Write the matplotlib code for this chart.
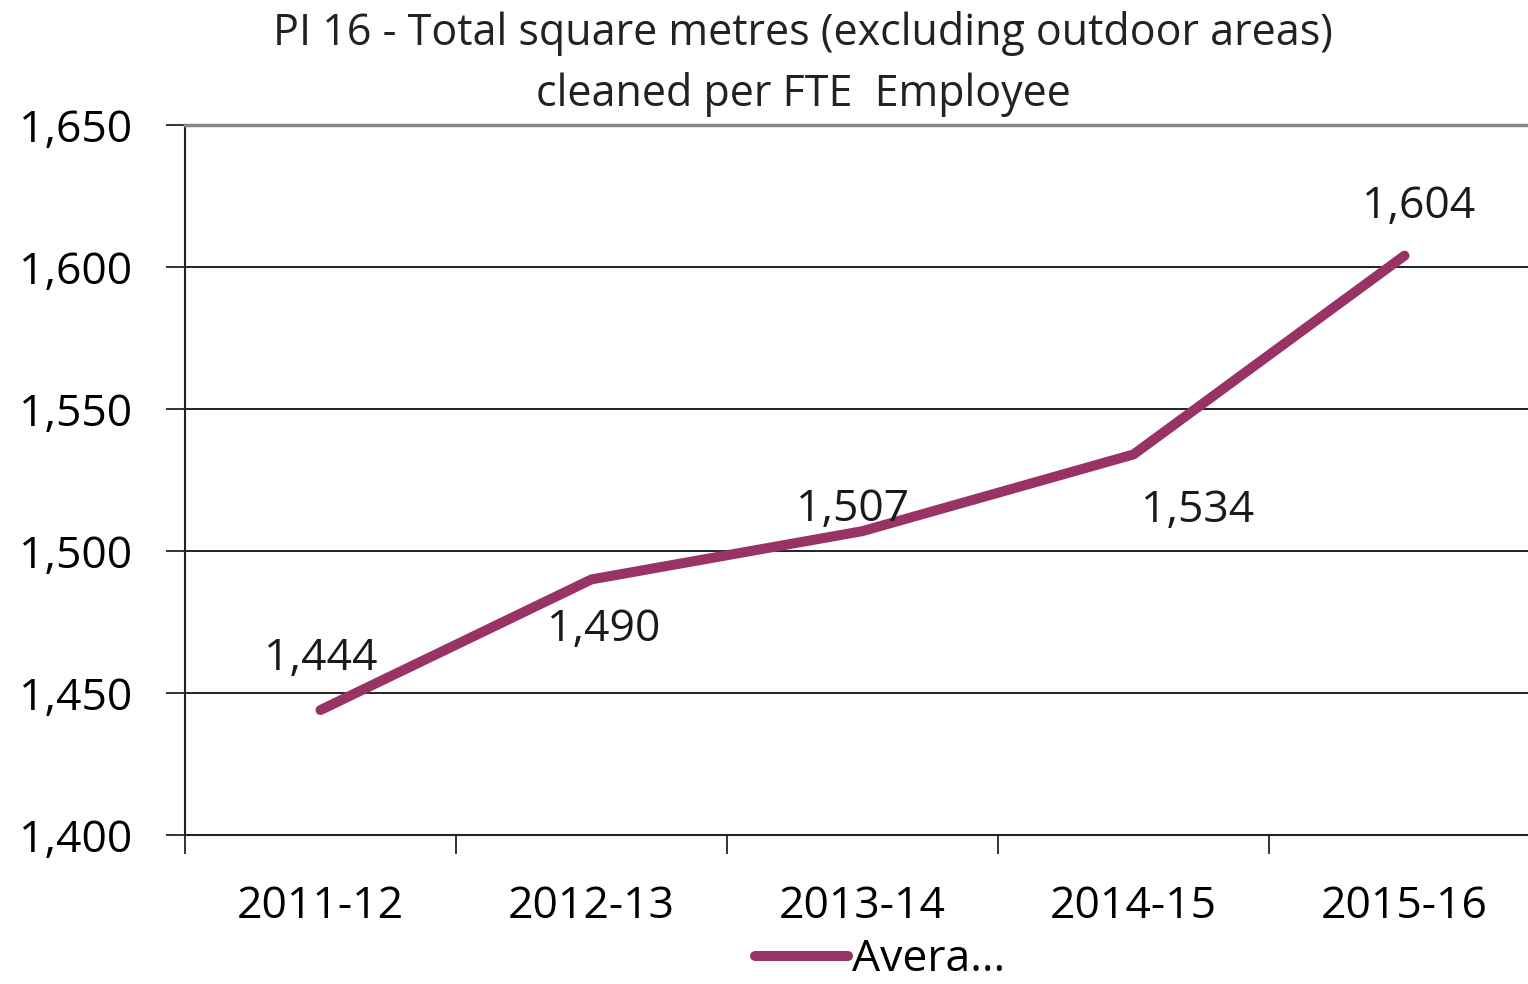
import matplotlib
matplotlib.use("Agg")
import matplotlib.pyplot as plt

plt.rcParams["font.family"] = ["Open Sans", "DejaVu Sans"]

years = ["2011-12", "2012-13", "2013-14", "2014-15", "2015-16"]
average = [1444, 1490, 1507, 1534, 1604]
y_ticks = [1400, 1450, 1500, 1550, 1600, 1650]
series_name = "Avera..."
title = "PI 16 - Total square metres (excluding outdoor areas)\ncleaned per FTE  Employee"

# label offsets in pixels (dx, dy), Excel-style placement
label_offsets = [(0, 51), (12, -50), (-10, 21), (64, -56), (14, 49)]

line_color = "#993366"
fs = 32

fig = plt.figure(figsize=(15.28, 9.84), dpi=100)
ax = fig.add_axes([185 / 1528, 1 - 835 / 984, (1540 - 185) / 1528, (835 - 125) / 984])

x = list(range(len(years)))
ax.plot(x, average, color=line_color, lw=7.2, solid_capstyle="round",
        solid_joinstyle="round", label=series_name, zorder=3)

for xi, val, (dx, dy) in zip(x, average, label_offsets):
    ax.annotate(f"{val:,}", (xi, val), xytext=(dx, dy), textcoords="offset pixels",
                ha="center", va="center", fontsize=fs, color="#1a1a1a", zorder=4)

ax.set_xlim(-0.5, len(years) - 0.5)
ax.set_ylim(y_ticks[0], y_ticks[-1])
ax.set_yticks(y_ticks)
ax.set_yticklabels([f"{v:,}" for v in y_ticks], fontsize=fs)

ax.set_xticks([i - 0.5 for i in range(len(years) + 1)])
ax.set_xticklabels([])
ax.set_xticks(x, minor=True)
ax.set_xticklabels(years, minor=True, fontsize=fs)
ax.tick_params(axis="x", which="major", length=14, width=1.3, color="#222222")
ax.tick_params(axis="x", which="minor", length=0, pad=36)
ax.tick_params(axis="y", length=14, width=1.3, color="#222222", pad=24)

ax.grid(axis="y", color="#111111", lw=1.3)
ax.set_axisbelow(True)
for side in ["left", "bottom"]:
    ax.spines[side].set_color("#222222")
    ax.spines[side].set_linewidth(1.5)
ax.spines["top"].set_color("#888888")
ax.spines["top"].set_linewidth(2.5)
ax.spines["right"].set_visible(False)

fig.text(803 / 1528, 1 - 64 / 984, title, ha="center", va="center", fontsize=31,
         linespacing=1.45, color="#222222")

fig.legend(loc="center", bbox_to_anchor=(880 / 1528, 1 - 960 / 984), frameon=False,
           fontsize=fs, handlelength=2.1, handletextpad=0.1, borderpad=0)

fig.savefig("out.png", dpi=100)
